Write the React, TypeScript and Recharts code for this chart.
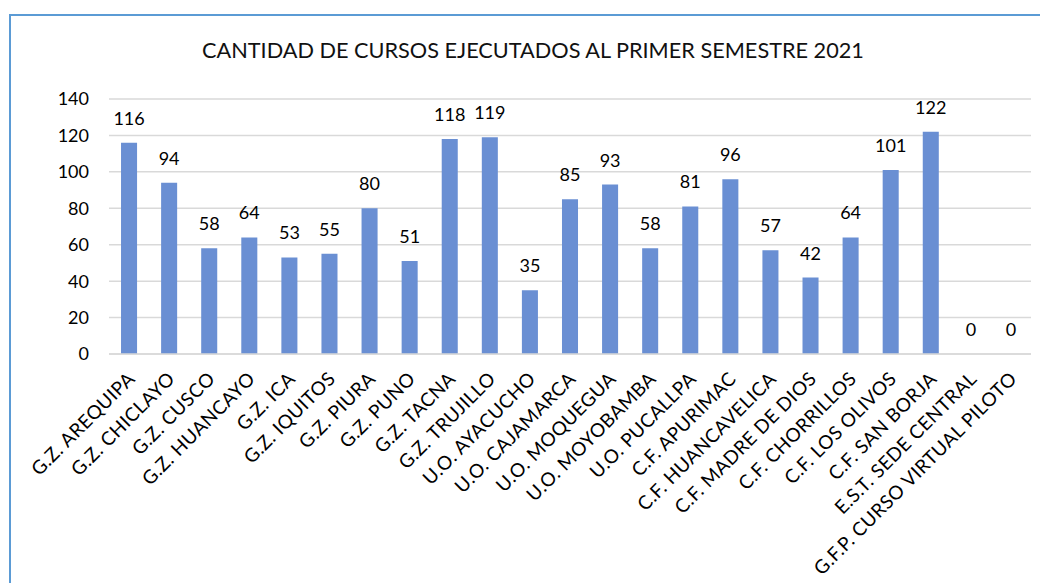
import { BarChart, Bar, XAxis, YAxis, CartesianGrid, LabelList } from 'recharts';

const categories = [
  'G.Z. AREQUIPA',
  'G.Z. CHICLAYO',
  'G.Z. CUSCO',
  'G.Z. HUANCAYO',
  'G.Z. ICA',
  'G.Z. IQUITOS',
  'G.Z. PIURA',
  'G.Z. PUNO',
  'G.Z. TACNA',
  'G.Z. TRUJILLO',
  'U.O. AYACUCHO',
  'U.O. CAJAMARCA',
  'U.O. MOQUEGUA',
  'U.O. MOYOBAMBA',
  'U.O. PUCALLPA',
  'C.F. APURIMAC',
  'C.F. HUANCAVELICA',
  'C.F. MADRE DE DIOS',
  'C.F. CHORRILLOS',
  'C.F. LOS OLIVOS',
  'C.F. SAN BORJA',
  'E.S.T. SEDE CENTRAL',
  'G.F.P. CURSO VIRTUAL PILOTO',
];

const cursos = [116, 94, 58, 64, 53, 55, 80, 51, 118, 119, 35, 85, 93, 58, 81, 96, 57, 42, 64, 101, 122, 0, 0];

const yTicks = [0, 20, 40, 60, 80, 100, 120, 140];

const data = categories.map((name, i) => ({ name, cursos: cursos[i] }));

const FONT = 'Lato, "Open Sans", sans-serif';

// etiqueta del eje X girada 45 grados
function SlantTick({ x, y, payload }: any) {
  return (
    <g transform={`translate(${x + 7},${y + 18})`}>
      <text
        transform="rotate(-45)"
        textAnchor="end"
        fontSize={19}
        letterSpacing={0.4}
        fontFamily={FONT}
        fill="#000"
      >
        {payload.value}
      </text>
    </g>
  );
}

export default function App() {
  return (
    <div style={{ position: 'relative', width: 1040, height: 575, overflow: 'hidden', background: '#fff' }}>
      <div
        style={{
          position: 'absolute',
          left: 1,
          top: 6,
          width: 2000,
          height: 2000,
          borderTop: '2px solid #5B9BD5',
          borderLeft: '2px solid #5B9BD5',
        }}
      />
      <div
        style={{
          position: 'absolute',
          left: 0,
          top: 29,
          width: 1050,
          textAlign: 'center',
          fontFamily: FONT,
          fontSize: 21.7,
          color: '#111',
        }}
      >
        CANTIDAD DE CURSOS EJECUTADOS AL PRIMER SEMESTRE 2021
      </div>
      <div style={{ position: 'absolute', left: 0, top: 0 }}>
        <BarChart
          width={1040}
          height={575}
          data={data}
          margin={{ top: 91, right: 17, bottom: 0, left: 0 }}
          barCategoryGap="70%"
        >
          <CartesianGrid vertical={false} stroke="#D9D9D9" strokeWidth={1.5} />
          <XAxis
            dataKey="name"
            interval={0}
            tickLine={false}
            axisLine={{ stroke: '#D9D9D9', strokeWidth: 1.5 }}
            tick={<SlantTick />}
            height={229}
          />
          <YAxis
            domain={[0, 140]}
            ticks={yTicks}
            width={101}
            axisLine={false}
            tickLine={false}
            tickMargin={14}
            tick={{ fontSize: 18, fontFamily: FONT, fill: '#000' }}
          />
          <Bar dataKey="cursos" fill="#6A8FD3" minPointSize={0.01} isAnimationActive={false}>
            <LabelList
              dataKey="cursos"
              position="top"
              offset={18}
              style={{ fontSize: 18, fontFamily: FONT, fill: '#000' }}
            />
          </Bar>
        </BarChart>
      </div>
    </div>
  );
}
